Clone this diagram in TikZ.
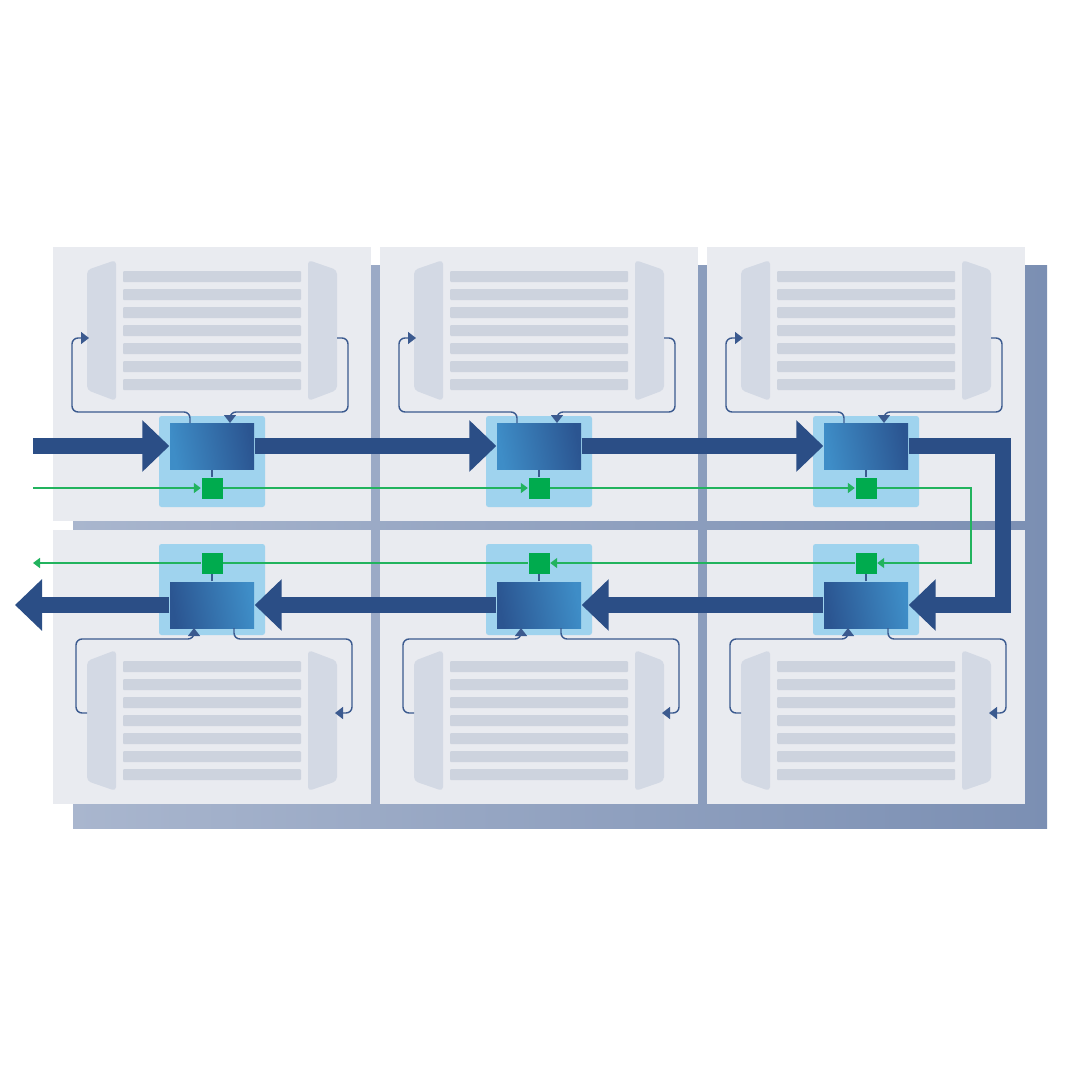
\documentclass[tikz,border=0pt]{standalone}
\usepackage{tikz}
\usepackage{xcolor}
\usetikzlibrary{arrows.meta}
\definecolor{backL}{HTML}{A9B6CE}
\definecolor{backR}{HTML}{7B8FB3}
\definecolor{panelc}{HTML}{E9EBF0}
\definecolor{barc}{HTML}{CDD3DE}
\definecolor{trapc}{HTML}{D3D9E4}
\definecolor{rbgc}{HTML}{9FD3EE}
\definecolor{rlight}{HTML}{3E8DC7}
\definecolor{rdark}{HTML}{2B5591}
\definecolor{greenc}{HTML}{00AB4E}
\definecolor{sigc}{HTML}{22B35E}
\definecolor{busc}{HTML}{2B4E86}
\definecolor{fbc}{HTML}{3B5A8F}

\begin{document}
\begin{tikzpicture}[x=0.1mm,y=-0.1mm,
	panel/.style={fill=panelc},
	bar/.style={fill=barc,rounded corners=0.1mm},
	trap/.style={fill=trapc,rounded corners=0.4mm},
	rbg/.style={fill=rbgc,rounded corners=0.25mm},
	router/.style={draw=none,minimum width=8.4mm,minimum height=4.6mm,inner sep=0pt},
	gsq/.style={fill=greenc,minimum size=2.1mm,inner sep=0pt},
	fb/.style={draw=fbc,line width=0.4pt,rounded corners=0.6mm},
	fbtip/.style={-{Triangle[length=0.8mm,width=1.2mm]}},
	sig/.style={draw=sigc,line width=0.45pt},
	sigtip/.style={-{Triangle[length=0.7mm,width=1mm]}},
	bus/.style={draw=busc,line width=1.6mm,line join=miter,
		-{Triangle[length=2.7mm,width=5mm,fill=busc]}}]
	\useasboundingbox (0,0) rectangle (1070,1070);
	% back plate
	\shade[left color=backL,right color=backR] (73,265) rectangle (1047,828);
	% panels
	\foreach \n/\cx/\cy/\rot/\ca/\cb in {1/212/384/0/rlight/rdark, 2/539/384/0/rlight/rdark, 3/866/384/0/rlight/rdark,
		4/212/667/180/rdark/rlight, 5/539/667/180/rdark/rlight, 6/866/667/180/rdark/rlight}{
		\begin{scope}[shift={(\cx,\cy)},rotate=\rot]
			\fill[panel] (-159,-137) rectangle (159,137);
			\fill[trap] (-125,-114) -- (-96,-124) -- (-96,17) -- (-125,6) -- cycle;
			\fill[trap] (125,-114) -- (96,-124) -- (96,17) -- (125,6) -- cycle;
			\foreach \k in {0,...,6}
				\fill[bar] (-89,-113+18*\k) rectangle (89,-102+18*\k);
			\fill[rbg] (-53,32) rectangle (53,123);
			% nodes
			\node[router,left color=\ca,right color=\cb,shading angle=100] (r\n) at (0,62) {};
			\node[gsq] (g\n) at (0,104) {};
			\coordinate (ro\n) at (-22,39);
			\coordinate (ri\n) at (18,39);
			\coordinate (pl\n) at (-123,-46);
			\coordinate (pr\n) at (125,-46);
			\draw[fb] (r\n) -- (g\n);
			\draw[fb,fbtip] (ro\n) -- (-22,28) -| (-140,-46) -- (pl\n);
			\draw[fb,fbtip] (pr\n) -- (136,-46) |- (18,28) -- (ri\n);
		\end{scope}
	}
	% control line
	\coordinate (sin) at (33,488);
	\coordinate (sturn) at (971,525);
	\coordinate (sout) at (33,563);
	\draw[sig,sigtip] (sin) -- (g1);
	\draw[sig,sigtip] (g1) -- (g2);
	\draw[sig,sigtip] (g2) -- (g3);
	\draw[sig,sigtip] (g3) -| (sturn) |- (g6);
	\draw[sig,sigtip] (g6) -- (g5);
	\draw[sig] (g5) -- (g4);
	\draw[sig,sigtip] (g4) -- (sout);
	% data bus
	\coordinate (busin) at (33,446);
	\coordinate (bturn) at (1003,525);
	\coordinate (busout) at (15,605);
	\draw[bus] (busin) -- (r1);
	\draw[bus] (r1) -- (r2);
	\draw[bus] (r2) -- (r3);
	\draw[bus] (r3) -| (bturn) |- (r6);
	\draw[bus] (r6) -- (r5);
	\draw[bus] (r5) -- (r4);
	\draw[bus] (r4) -- (busout);
\end{tikzpicture}
\end{document}
